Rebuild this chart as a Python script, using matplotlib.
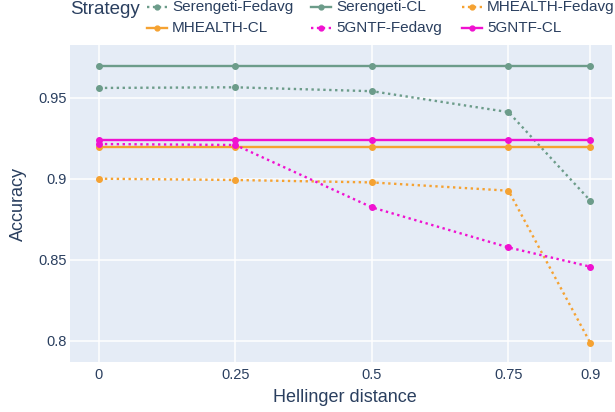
import matplotlib
matplotlib.use("Agg")
import matplotlib.pyplot as plt
from matplotlib.lines import Line2D

plt.rcParams['font.family'] = ['Liberation Sans', 'DejaVu Sans']

x_vals = [0, 0.25, 0.5, 0.75, 0.9]
x_ticklabels = ["0", "0.25", "0.5", "0.75", "0.9"]
y_ticks = [0.8, 0.85, 0.9, 0.95]
y_ticklabels = ["0.8", "0.85", "0.9", "0.95"]

serengeti_fedavg = [0.956, 0.9564, 0.954, 0.9411, 0.8864]
serengeti_cl = [0.9697, 0.9697, 0.9697, 0.9697, 0.9697]
mhealth_fedavg = [0.900, 0.8992, 0.8977, 0.8926, 0.7986]
mhealth_cl = [0.9197, 0.9197, 0.9197, 0.9197, 0.9197]
gntf_fedavg = [0.9214, 0.9208, 0.8823, 0.8576, 0.8457]
gntf_cl = [0.9239, 0.9239, 0.9239, 0.9239, 0.9239]

series_names = ["Serengeti-Fedavg", "Serengeti-CL", "MHEALTH-Fedavg",
                "MHEALTH-CL", "5GNTF-Fedavg", "5GNTF-CL"]
series_values = [serengeti_fedavg, serengeti_cl, mhealth_fedavg,
                 mhealth_cl, gntf_fedavg, gntf_cl]

c_ser = '#6c9c8a'
c_mh = '#f5a232'
c_5g = '#f011d0'
colors = [c_ser, c_ser, c_mh, c_mh, c_5g, c_5g]
dot = (0, (1, 1.5))
styles = [dot, '-', dot, '-', dot, '-']

text_color = '#2a3f5f'

fig = plt.figure(figsize=(6.15, 4.12), dpi=100)
W, H = 615, 412
left, right, top, bottom = 70, 612, 45, 362
ax = fig.add_axes([left / W, 1 - bottom / H, (right - left) / W, (bottom - top) / H])
ax.set_facecolor('#e5ecf6')
for s in ax.spines.values():
    s.set_visible(False)

for name, vals, c, ls in zip(series_names, series_values, colors, styles):
    ax.plot(x_vals, vals, color=c, linestyle=ls, linewidth=1.7,
            marker='o', markersize=4, label=name, zorder=3)

ax.set_xlim(-0.0531, 0.9396)
ax.set_ylim(0.7869, 0.9825)
ax.set_xticks(x_vals)
ax.set_xticklabels(x_ticklabels)
ax.set_yticks(y_ticks)
ax.set_yticklabels(y_ticklabels)
ax.grid(True, color='white', linewidth=1.1, zorder=0)
ax.set_axisbelow(True)
ax.tick_params(axis='both', length=0, labelsize=10.5, labelcolor=text_color)
ax.tick_params(axis='x', pad=4)
ax.tick_params(axis='y', pad=2)

fig.text(345 / W, 1 - 398 / H, "Hellinger distance", fontsize=13,
         color=text_color, ha='center', va='center')
fig.text(18 / W, 1 - 204 / H, "Accuracy", fontsize=13, rotation=90,
         color=text_color, ha='center', va='center')

fig.text(70 / W, 1 - 10 / H, "Strategy", fontsize=13.5, color=text_color,
         ha='left', va='center')

# legend laid out like the reference: 3 columns x 2 rows
col_handle_x = [147, 311, 462]
row_y = [7, 28]
order = [[0, 1, 2], [3, 4, 5]]
for ri, row in enumerate(order):
    for ci, idx in enumerate(row):
        x0 = col_handle_x[ci]
        y = 1 - row_y[ri] / H
        fig.add_artist(Line2D([x0 / W, (x0 + 20) / W], [y, y],
                              transform=fig.transFigure, color=colors[idx],
                              linestyle=styles[idx], linewidth=1.7))
        fig.add_artist(Line2D([(x0 + 10) / W], [y], transform=fig.transFigure,
                              color=colors[idx], marker='o', markersize=3.5,
                              linestyle='none'))
        fig.text((x0 + 25) / W, y, series_names[idx], fontsize=11,
                 color=text_color, ha='left', va='center')

fig.savefig("out.png", dpi=100)
